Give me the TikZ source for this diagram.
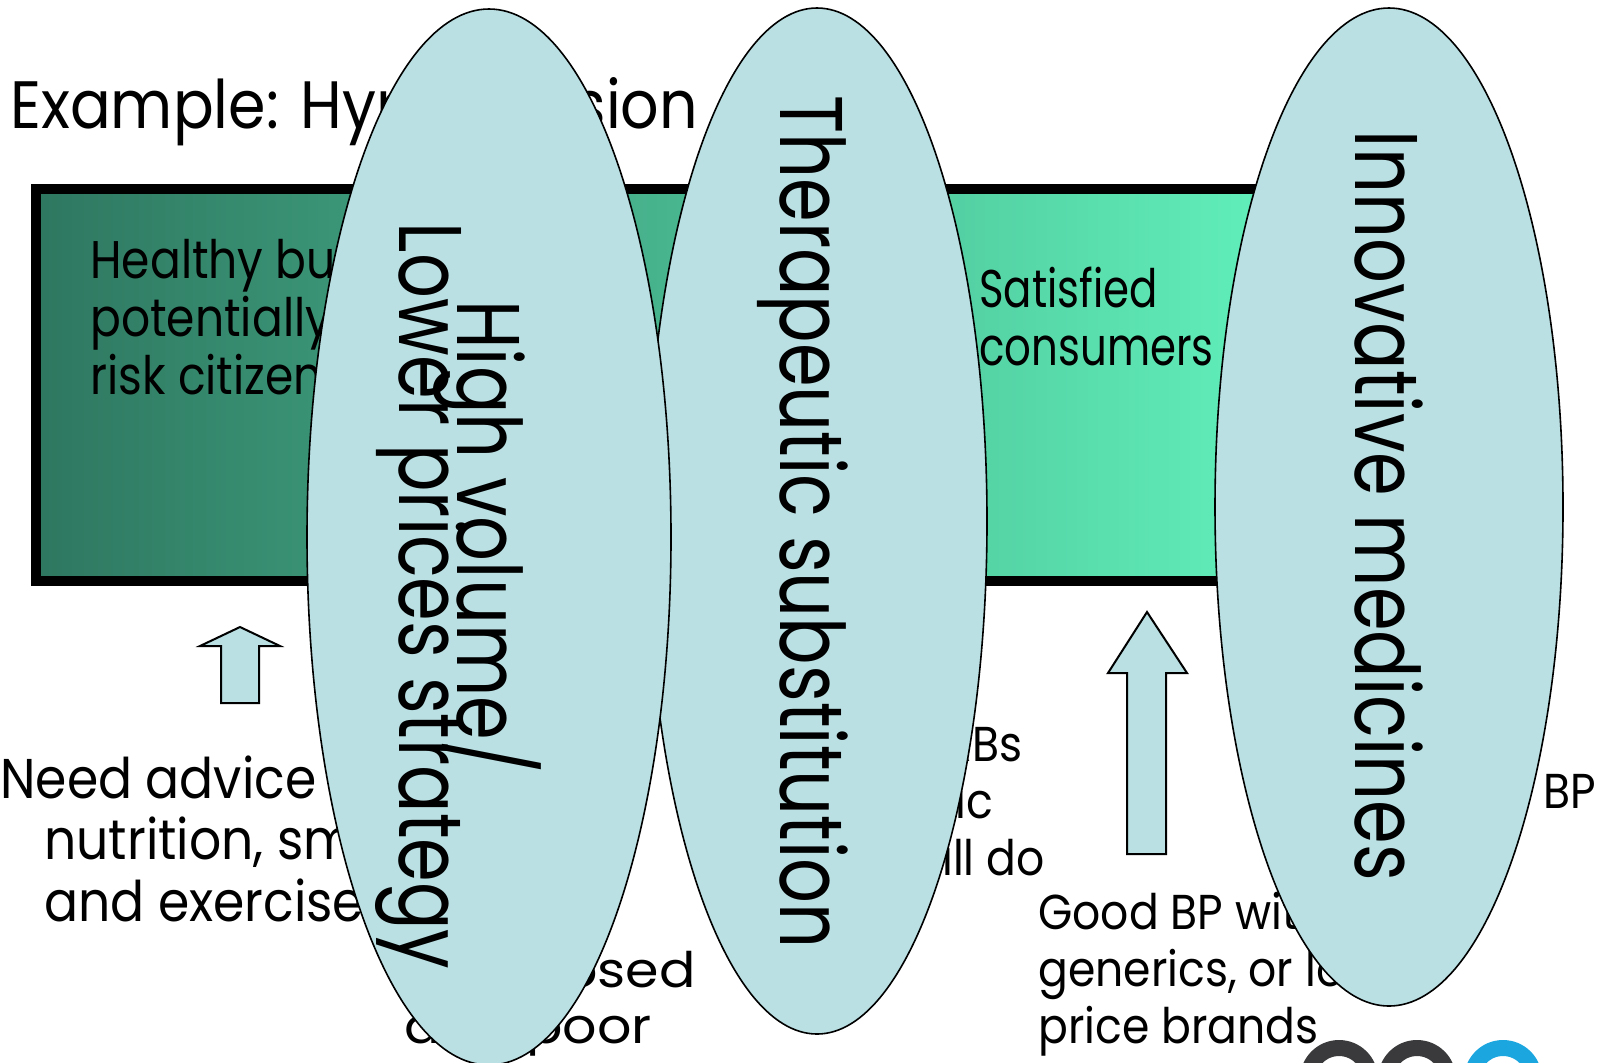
\documentclass[tikz,border=0pt]{standalone}
\usepackage{fontspec}
\setmainfont{Poppins}[FakeStretch=0.9]
\newfontfamily\narrowfont{Poppins}[FakeStretch=0.79]
\newfontfamily\boxfont{Poppins}[FakeStretch=0.86]
\newfontfamily\widefont{Poppins}[FakeStretch=1.1]
\definecolor{ovalfill}{HTML}{BAE0E3}
\definecolor{boxdark}{HTML}{2E7760}
\definecolor{boxlight}{HTML}{66FCC4}
\definecolor{logogrey}{HTML}{3A3A3C}
\definecolor{logoblue}{HTML}{1BA6E0}
\tikzstyle{every node}=[inner sep=0pt]
\tikzstyle{oval}=[draw=black, line width=0.8pt, fill=ovalfill]
\tikzstyle{uparrow}=[draw=black, line width=1pt, fill=ovalfill, line join=miter]
\tikzstyle{ovaltext}=[rotate=-90, anchor=base, font=\narrowfont\fontsize{44.5}{50}\selectfont]
\tikzstyle{boxtext}=[anchor=base west, align=left, font=\boxfont\fontsize{26.5}{29}\selectfont]
\tikzstyle{lowtext}=[anchor=base west, align=left, font=\fontsize{24.5}{28.5}\selectfont]

\begin{document}
\begin{tikzpicture}[x=0.5pt, y=-0.5pt]
\useasboundingbox (0,0) rectangle (1604,1062);
\clip (0,0) rectangle (1604,1062);

\node[anchor=base west, font=\fontsize{33.5}{40}\selectfont] (title) at (10,128) {Example: Hypertension};

% segments box
\draw[line width=5pt, left color=boxdark, right color=boxlight] (36,189) rectangle (1400,581);
\node[boxtext] (healthy) at (90,394) {Healthy but\\potentially at\\risk citizens};
\node[boxtext, font=\narrowfont\fontsize{26.5}{29}\selectfont] (satisfied) at (979,365) {Satisfied\\consumers};

% arrows
\draw[uparrow] (221,703) -- (221,646) -- (200,646) -- (240,627) -- (280,646) -- (259,646) -- (259,703) -- cycle;
\draw[uparrow] (1127,854) -- (1127,673) -- (1108,673) -- (1147,612) -- (1187,673) -- (1166,673) -- (1166,854) -- cycle;

% needs
\node[anchor=base west, align=left, font=\fontsize{28}{30.75}\selectfont] (advice) at (0,921)
  {Need advice on\\\hspace*{22pt}nutrition, smoking\\\hspace*{22pt}and exercise};
\node[lowtext, font=\widefont\fontsize{24.5}{28}\selectfont] (diagnosed) at (404,1043) {Diagnosed\\and poor};
\node[lowtext, anchor=base east, align=right] (generic) at (1045,875)
  {ACEIs, ARBs\rule{11pt}{0pt}\\or generic\rule{25.5pt}{0pt}\\CCBs will do};
\node[lowtext, anchor=base east] (highbp) at (1596,808) {High BP};
\node[lowtext] (goodbp) at (1038,1043) {Good BP with\\generics, or low\\price brands};

% strategies
\draw[oval] (817,521) ellipse (170 and 513);
\draw[oval] (489,537) ellipse (182 and 528);
\draw[oval] (1389,507) ellipse (174 and 499);
\node[ovaltext] (highvol) at (457,537) {High volume/};
\node[ovaltext] (lowprice) at (399,596) {Lower prices strategy};
\node[ovaltext] (therapeutic) at (780,522) {Therapeutic substitution};
\node[ovaltext] (innovative) at (1355,506) {Innovative medicines};

% logo
\draw[logogrey, line width=8pt] (1339,1079) circle (31);
\draw[logogrey, line width=8pt] (1417,1079) circle (31);
\draw[logoblue, line width=8pt] (1503,1079) circle (31);
\end{tikzpicture}
\end{document}
